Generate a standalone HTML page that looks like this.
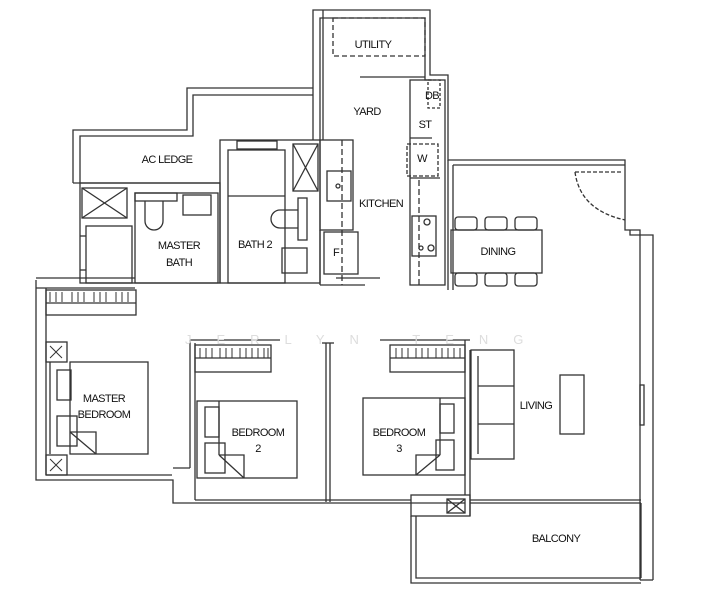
<!DOCTYPE html>
<html><head><meta charset="utf-8"><style>
html,body{margin:0;padding:0;background:#fff;}
svg{display:block;}
text{font-family:"Liberation Sans",sans-serif;font-size:11px;fill:#111;letter-spacing:-0.6px;}
</style></head><body>
<svg width="716" height="600" viewBox="0 0 716 600" xmlns="http://www.w3.org/2000/svg">
<g fill="none" stroke="#333" stroke-width="1.3">
<polyline points="73,183 73,130 187,130 187,88 313,88"/>
<polyline points="80,183 80,136 193,136 193,95 313,95"/>
<line x1="73" y1="183" x2="220" y2="183"/>
<polyline points="313,140 313,10 430,10 430,75 448,75 448,160 625,160 625,230 640,230 640,580"/>
<polyline points="320,140 320,18 425,18 425,80 432,80"/>
<line x1="323" y1="10" x2="323" y2="140"/>
<rect x="333" y="18" width="92" height="38" stroke-dasharray="5,3"/>
<line x1="360" y1="77" x2="425" y2="77"/>
<rect x="410" y="80" width="35" height="205"/>
<rect x="428" y="80" width="12" height="28" stroke-dasharray="3,2"/>
<line x1="410" y1="138" x2="432" y2="138"/>
<rect x="407" y="144" width="31" height="32" stroke-dasharray="4,2"/>
<line x1="410" y1="178" x2="440" y2="178"/>
<line x1="419" y1="180" x2="419" y2="285" stroke-dasharray="6,3"/>
<rect x="412" y="216" width="24" height="40"/>
<circle cx="427" cy="222" r="3"/><circle cx="431" cy="248" r="3"/><circle cx="421" cy="248" r="2"/>
<line x1="448" y1="160" x2="448" y2="290"/>
<line x1="453" y1="165" x2="453" y2="290"/>
<line x1="453" y1="165" x2="625" y2="165"/>
<path d="M575,172 L623,172" stroke-dasharray="4,2"/>
<path d="M575,172 Q580,210 625,220" stroke-dasharray="4,2"/>
<polyline points="630,230 630,235 653,235 653,580"/>
<rect x="320" y="140" width="33" height="90"/>
<line x1="342" y1="140" x2="342" y2="285" stroke-dasharray="6,3"/>
<rect x="327" y="171" width="24" height="30"/>
<circle cx="338" cy="186" r="2"/>
<rect x="324" y="232" width="34" height="42"/>
<line x1="320" y1="230" x2="320" y2="285"/>
<line x1="320" y1="285" x2="365" y2="285"/>
<line x1="336" y1="278" x2="380" y2="278"/>
<rect x="220" y="140" width="100" height="143"/>
<rect x="228" y="150" width="57" height="133"/>
<rect x="237" y="141" width="40" height="8"/>
<rect x="293" y="144" width="25" height="47"/>
<line x1="293" y1="144" x2="318" y2="191"/><line x1="318" y1="144" x2="293" y2="191"/>
<line x1="228" y1="196" x2="285" y2="196"/>
<rect x="298" y="198" width="9" height="42"/>
<path d="M298,210 h-18 a9,9 0 0 0 0,18 h18"/>
<rect x="282" y="248" width="25" height="25"/>
<rect x="80" y="183" width="140" height="100"/>
<rect x="82" y="188" width="45" height="30"/>
<line x1="82" y1="188" x2="127" y2="218"/><line x1="127" y1="188" x2="82" y2="218"/>
<rect x="135" y="193" width="83" height="90"/>
<rect x="135" y="193" width="42" height="8"/>
<path d="M145,201 v20 a9,9 0 0 0 18,0 v-20"/>
<rect x="183" y="195" width="28" height="20"/>
<rect x="86" y="226" width="46" height="57"/>
<line x1="80" y1="236" x2="86" y2="236"/><line x1="80" y1="270" x2="86" y2="270"/>
<polyline points="36,280 36,480 173,480 173,503 465,503"/>
<polyline points="46,288 46,475"/>
<line x1="36" y1="278" x2="135" y2="278"/>
<line x1="46" y1="475" x2="172" y2="475"/>
<line x1="36" y1="288" x2="135" y2="288"/>
<line x1="173" y1="468" x2="190" y2="468"/>
<line x1="190" y1="340" x2="190" y2="468"/>
<line x1="195" y1="343" x2="195" y2="500"/>
<line x1="195" y1="500" x2="411" y2="500"/>
<line x1="190" y1="340" x2="280" y2="340"/>
<line x1="326" y1="343" x2="326" y2="502"/><line x1="330" y1="343" x2="330" y2="502"/>
<line x1="322" y1="343" x2="334" y2="343"/>
<line x1="380" y1="340" x2="470" y2="340"/>
<line x1="465" y1="340" x2="465" y2="495"/><line x1="470" y1="350" x2="470" y2="516"/>
<rect x="411" y="495" width="59" height="21"/>
<rect x="447" y="499" width="18" height="14"/>
<line x1="447" y1="499" x2="465" y2="513"/><line x1="465" y1="499" x2="447" y2="513"/>
<polyline points="411,516 411,583 641,583"/>
<polyline points="416,516 416,578 641,578"/>
<line x1="641" y1="503" x2="641" y2="578"/>
<line x1="640" y1="580" x2="653" y2="580"/>
<line x1="470" y1="500" x2="641" y2="500"/>
<line x1="470" y1="503" x2="641" y2="503"/>
<rect x="640" y="385" width="4" height="40"/>
<rect x="46" y="290" width="90" height="25"/>
<line x1="46" y1="303" x2="136" y2="303"/>
<rect x="195" y="345" width="76" height="27"/>
<line x1="195" y1="358" x2="271" y2="358"/>
<rect x="390" y="345" width="75" height="27"/>
<line x1="390" y1="358" x2="465" y2="358"/>
<rect x="46" y="342" width="21" height="20"/>
<rect x="46" y="455" width="21" height="20"/>
<rect x="70" y="362" width="78" height="92"/>
<rect x="57" y="370" width="14" height="30"/>
<rect x="57" y="416" width="20" height="30"/>
<polyline points="70,432 96,432 96,454"/><line x1="70" y1="432" x2="96" y2="454"/>
<line x1="50" y1="362" x2="50" y2="454"/>
<rect x="197" y="401" width="100" height="77"/>
<line x1="219" y1="401" x2="219" y2="455"/>
<rect x="205" y="407" width="14" height="30"/><rect x="205" y="443" width="20" height="30"/>
<polyline points="219,455 244,455 244,478"/><line x1="219" y1="455" x2="244" y2="478"/>
<rect x="363" y="398" width="102" height="77"/>
<line x1="440" y1="398" x2="440" y2="455"/>
<rect x="440" y="404" width="14" height="29"/><rect x="436" y="440" width="18" height="30"/>
<polyline points="440,455 416,455 416,475"/><line x1="440" y1="455" x2="416" y2="475"/>
<rect x="471" y="350" width="43" height="109"/>
<line x1="478" y1="356" x2="478" y2="454"/>
<line x1="478" y1="386" x2="514" y2="386"/><line x1="478" y1="424" x2="514" y2="424"/>
<rect x="560" y="375" width="24" height="59"/>
<rect x="451" y="230" width="91" height="43"/>
<rect x="455" y="217" width="22" height="13" rx="3"/><rect x="485" y="217" width="22" height="13" rx="3"/><rect x="515" y="217" width="22" height="13" rx="3"/>
<rect x="455" y="273" width="22" height="13" rx="3"/><rect x="485" y="273" width="22" height="13" rx="3"/><rect x="515" y="273" width="22" height="13" rx="3"/>
</g>
<g stroke="#333" stroke-width="1">
<path d="M50,292v10M56,292v10M62,292v10M72,292v10M78,292v10M84,292v10M94,292v10M100,292v10M106,292v10M116,292v10M122,292v10M128,292v10"/>
<path d="M200,348v10M206,348v10M212,348v10M220,348v10M226,348v10M232,348v10M240,348v10M246,348v10M252,348v10M258,348v10M264,348v10M268,348v10"/>
<path d="M396,348v10M402,348v10M408,348v10M416,348v10M422,348v10M428,348v10M436,348v10M442,348v10M448,348v10M454,348v10M460,348v10"/>
<path d="M50,346l12,12M62,346l-12,12M50,459l12,12M62,459l-12,12"/>
</g>
<text x="185" y="344" style="fill:#ddd;font-size:13px;letter-spacing:25px">JERLYN TENG</text>
<g text-anchor="middle">
<text x="373" y="48">UTILITY</text>
<text x="367" y="115">YARD</text>
<text x="432" y="99">DB</text>
<text x="425" y="128">ST</text>
<text x="422" y="162">W</text>
<text x="381" y="207">KITCHEN</text>
<text x="167" y="163">AC LEDGE</text>
<text x="179" y="249">MASTER</text><text x="179" y="266">BATH</text>
<text x="255" y="248">BATH 2</text>
<text x="336" y="256">F</text>
<text x="498" y="255">DINING</text>
<text x="104" y="402">MASTER</text><text x="104" y="418">BEDROOM</text>
<text x="258" y="436">BEDROOM</text><text x="258" y="452">2</text>
<text x="399" y="436">BEDROOM</text><text x="399" y="452">3</text>
<text x="536" y="409">LIVING</text>
<text x="556" y="542">BALCONY</text>
</g>
</svg>
</body></html>
